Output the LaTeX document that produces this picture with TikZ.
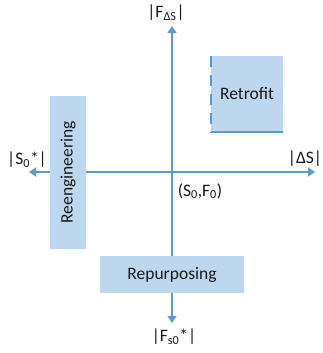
\documentclass[tikz,border=0pt]{standalone}
\usepackage{fontspec}
\setmainfont{Carlito}
\usetikzlibrary{arrows.meta}
\definecolor{axisblue}{HTML}{5B9BD5}
\definecolor{boxfill}{HTML}{BDD7EE}
\begin{document}
\begin{tikzpicture}[x=1pt,y=-1pt,
  axis/.style={draw=axisblue,line width=2.5pt,-{Triangle[length=7pt,width=9pt]}},
  region/.style={fill=boxfill,inner sep=0pt,font=\fontsize{17.5}{21}\selectfont,text=black!90},
  lbl/.style={inner sep=0pt,font=\fontsize{17.5}{21}\selectfont,text=black!90}]
\useasboundingbox (0,0) rectangle (323,353);
\coordinate (O) at (172,172);
\coordinate (L) at (29,172);
\coordinate (R) at (315,172);
\coordinate (T) at (172,26);
\coordinate (B) at (172,323);
\draw[axis] (O) -- (R);
\draw[axis] (O) -- (L);
\draw[axis] (O) -- (T);
\draw[axis] (O) -- (B);
\node[region,minimum width=72pt,minimum height=76pt] (retro) at (247,94) {Retrofit};
\draw[axisblue,line width=2.5pt,dash pattern=on 11pt off 8pt] (retro.north west) -- (retro.south west);
\draw[axisblue,line width=2.5pt] (retro.south west) -- (retro.south east);
\node[region,minimum width=36pt,minimum height=153pt] (reeng) at (68,172.5) {};
\node[lbl,rotate=90] (reengt) at (reeng.center) {Reengineering};
\node[region,minimum width=144pt,minimum height=37pt] (repur) at (172,274.5) {Repurposing};
\node[lbl] (ltop) at (166,13) {|F\textsubscript{ΔS}|};
\node[lbl] (lright) at (305,159) {|ΔS|};
\node[lbl] (lleft) at (27,160) {|S\textsubscript{0}*|};
\node[lbl] (lorig) at (200,191) {(S\textsubscript{0},F\textsubscript{0})};
\node[lbl] (lbot) at (174,337) {|F\textsubscript{s0}*|};
\end{tikzpicture}
\end{document}
